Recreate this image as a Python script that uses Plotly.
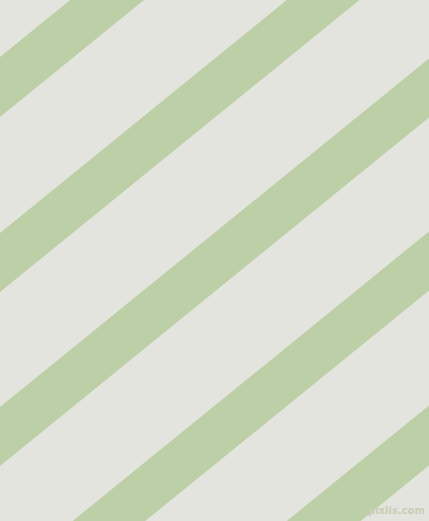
import plotly.graph_objects as go

WIDTH = 429
HEIGHT = 521

# diagonal stripes: edge lines y = c - slope * x (pixel space, y down)
slope = 0.8125
stripe_upper = [57, 233, 407, 580, 754]
stripe_lower = [117, 292, 466, 639, 814]

BG = "#e4e4df"
STRIPE = "#bdcfa6"

fig = go.Figure()

for cu, cl in zip(stripe_upper, stripe_lower):
    xs = [0, WIDTH, WIDTH, 0, 0]
    ys = [cu, cu - slope * WIDTH, cl - slope * WIDTH, cl, cu]
    fig.add_trace(go.Scatter(
        x=xs, y=ys,
        mode="lines",
        fill="toself",
        fillcolor=STRIPE,
        line=dict(width=0, color=STRIPE),
        hoverinfo="skip",
        showlegend=False,
    ))

fig.add_annotation(
    text="<b>pixlis.com</b>",
    x=427, y=510,
    xref="x", yref="y",
    xanchor="right", yanchor="middle",
    showarrow=False,
    font=dict(family="DejaVu Sans", size=10, color="#c6cfb4"),
)

fig.update_layout(
    width=WIDTH, height=HEIGHT,
    margin=dict(l=0, r=0, t=0, b=0),
    paper_bgcolor=BG,
    plot_bgcolor=BG,
    showlegend=False,
    xaxis=dict(range=[0, WIDTH], visible=False, fixedrange=True),
    yaxis=dict(range=[HEIGHT, 0], visible=False, fixedrange=True),
)

# drop the default page margin so the figure fills the window
page_js = (
    "document.body.style.margin='0';"
    "document.body.style.overflow='hidden';"
    "document.body.style.background='" + BG + "';"
)

fig.write_html("out.html", config={"displayModeBar": False}, post_script=page_js)
